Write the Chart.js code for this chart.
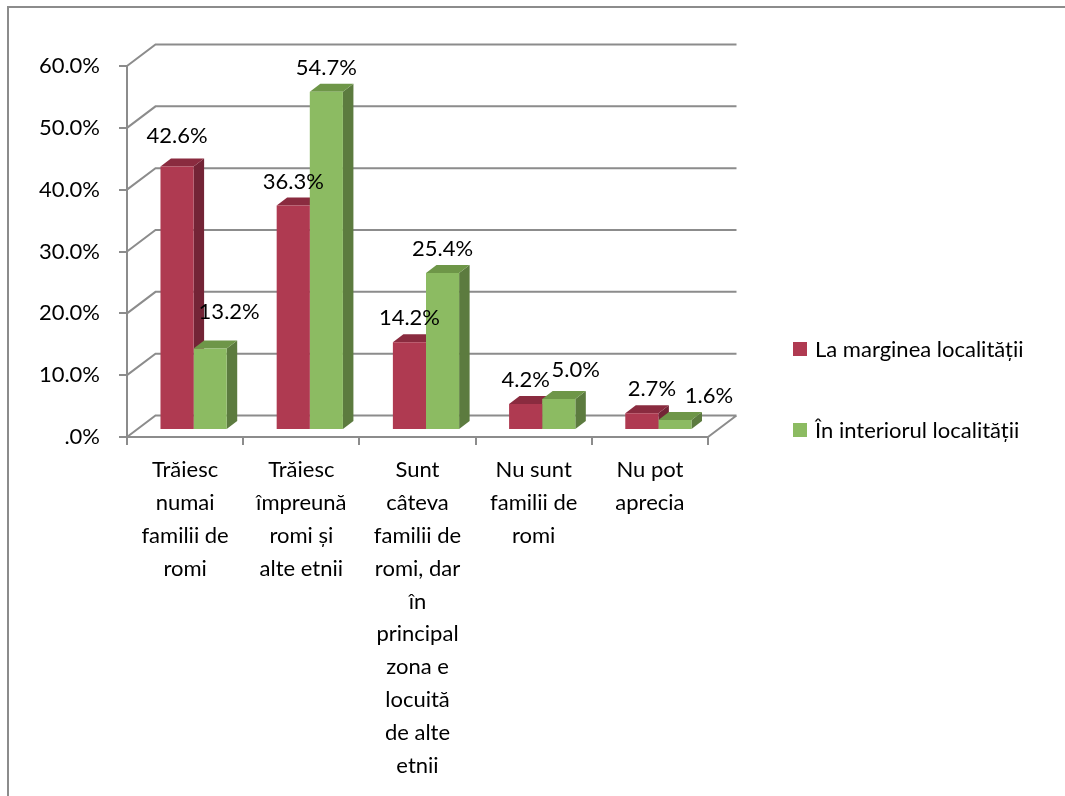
<!DOCTYPE html>
<html>
<head>
<meta charset="utf-8">
<script src="https://cdn.jsdelivr.net/npm/chart.js@4"></script>
<style>
html,body{margin:0;padding:0;background:#fff;}
#wrap{width:1065px;height:796px;position:relative;}
</style>
</head>
<body>
<div id="wrap"><canvas id="c" width="1065" height="796"></canvas></div>
<script>
// ---- data ----
const categories = [
  ['Trăiesc', 'numai', 'familii de', 'romi'],
  ['Trăiesc', 'împreună', 'romi și', 'alte etnii'],
  ['Sunt', 'câteva', 'familii de', 'romi, dar', 'în', 'principal', 'zona e', 'locuită', 'de alte', 'etnii'],
  ['Nu sunt', 'familii de', 'romi'],
  ['Nu pot', 'aprecia']
];
const seriesNames = ['La marginea localității', 'În interiorul localității'];
const marginea = [42.6, 36.3, 14.2, 4.2, 2.7];
const interiorul = [13.2, 54.7, 25.4, 5.0, 1.6];
const yMin = 0, yMax = 60, yStep = 10;

// ---- styles ----
const FONT = 'Lato, "Open Sans", sans-serif';
const FS = 22;
const GRID = '#8c8c8c';
const faces = [
  {front: '#AF3A51', top: '#8A2B3F', side: '#732436'},
  {front: '#8CBB62', top: '#6E9648', side: '#5C7B3F'}
];
const G = {dx: 8.5, dy: -7, bx: 28.5, by: -21.5, ddx: 10.5, ddy: -8};
// manual label nudges [dx, dy] per series / category
const labelNudge = [
  [[0, -7], [0, 0], [0, 0], [0, 0], [10, 0]],
  [[19, -12], [0, 0], [0, 0], [17, -5], [34, 0]]
];
const fmtPct = v => (v === 0 ? '.0%' : v.toFixed(1) + '%');

const threeD = {
  id: 'threeD',
  beforeDraw(chart) {
    const ctx = chart.ctx;
    ctx.save();
    ctx.strokeStyle = GRID;
    ctx.lineWidth = 2;
    ctx.beginPath();
    ctx.moveTo(8, 800);
    ctx.lineTo(8, 7);
    ctx.lineTo(1070, 7);
    ctx.stroke();
    ctx.restore();
  },
  beforeDatasetsDraw(chart) {
    const {ctx, chartArea: a, scales: {y}} = chart;
    ctx.save();
    ctx.strokeStyle = GRID;
    ctx.lineWidth = 2;
    ctx.beginPath();
    y.ticks.forEach(t => {
      const py = y.getPixelForValue(t.value);
      ctx.moveTo(a.left, py);
      ctx.lineTo(a.left + G.bx, py + G.by);
      ctx.lineTo(a.right + G.bx, py + G.by);
    });
    ctx.moveTo(a.right, a.bottom);
    ctx.lineTo(a.right + G.bx, a.bottom + G.by);
    ctx.stroke();
    ctx.restore();

    ctx.save();
    ctx.translate(G.dx, G.dy);
    chart.data.datasets.forEach((ds, di) => {
      const meta = chart.getDatasetMeta(di);
      meta.data.forEach(bar => {
        const x0 = bar.x - bar.width / 2, x1 = bar.x + bar.width / 2;
        const top = bar.y, base = bar.base;
        ctx.fillStyle = faces[di].side;
        ctx.beginPath();
        ctx.moveTo(x1, top);
        ctx.lineTo(x1 + G.ddx, top + G.ddy);
        ctx.lineTo(x1 + G.ddx, base + G.ddy);
        ctx.lineTo(x1, base);
        ctx.closePath();
        ctx.fill();
        ctx.fillStyle = faces[di].top;
        ctx.beginPath();
        ctx.moveTo(x0, top);
        ctx.lineTo(x0 + G.ddx, top + G.ddy);
        ctx.lineTo(x1 + G.ddx, top + G.ddy);
        ctx.lineTo(x1, top);
        ctx.closePath();
        ctx.fill();
      });
    });
  },
  afterDatasetsDraw(chart) {
    const ctx = chart.ctx;
    ctx.restore();
    ctx.save();
    ctx.font = FS + 'px ' + FONT;
    ctx.fillStyle = '#000';
    ctx.textAlign = 'center';
    ctx.textBaseline = 'middle';
    chart.data.datasets.forEach((ds, di) => {
      const meta = chart.getDatasetMeta(di);
      meta.data.forEach((bar, i) => {
        const n = labelNudge[di][i];
        ctx.fillText(fmtPct(ds.data[i]), bar.x + G.dx + n[0], bar.y + G.dy - 24 + n[1]);
      });
    });
    // legend
    const lx = 793, ly = [349, 430];
    ctx.textAlign = 'left';
    seriesNames.forEach((name, i) => {
      ctx.fillStyle = faces[i].front;
      ctx.fillRect(lx, ly[i] - 7, 14, 14);
      ctx.fillStyle = '#000';
      ctx.fillText(name, lx + 22, ly[i] + 1);
    });
    ctx.restore();
  }
};

new Chart(document.getElementById('c'), {
  type: 'bar',
  data: {
    labels: categories,
    datasets: [
      {label: seriesNames[0], data: marginea, backgroundColor: faces[0].front, clip: false},
      {label: seriesNames[1], data: interiorul, backgroundColor: faces[1].front, clip: false}
    ]
  },
  options: {
    responsive: false,
    devicePixelRatio: 1,
    animation: false,
    categoryPercentage: 0.57,
    barPercentage: 1.0,
    layout: {padding: {left: 0, right: 357, top: 66, bottom: 0}},
    plugins: {legend: {display: false}, tooltip: {enabled: false}},
    scales: {
      x: {
        grid: {offset: true, drawOnChartArea: false, tickLength: 8, color: GRID, lineWidth: 2},
        border: {color: GRID, width: 2},
        ticks: {font: {family: FONT, size: FS, lineHeight: 1.49}, color: '#000', padding: 9, maxRotation: 0, autoSkip: false},
        afterFit(s) { s.height = 796 - 437; }
      },
      y: {
        min: yMin, max: yMax,
        grid: {drawOnChartArea: false, tickLength: 8, color: GRID, lineWidth: 2},
        border: {color: GRID, width: 2},
        ticks: {stepSize: yStep, font: {family: FONT, size: FS}, color: '#000', padding: 19, callback: v => fmtPct(v)},
        afterFit(s) { s.width = 127; }
      }
    }
  },
  plugins: [threeD]
});
</script>
</body>
</html>
